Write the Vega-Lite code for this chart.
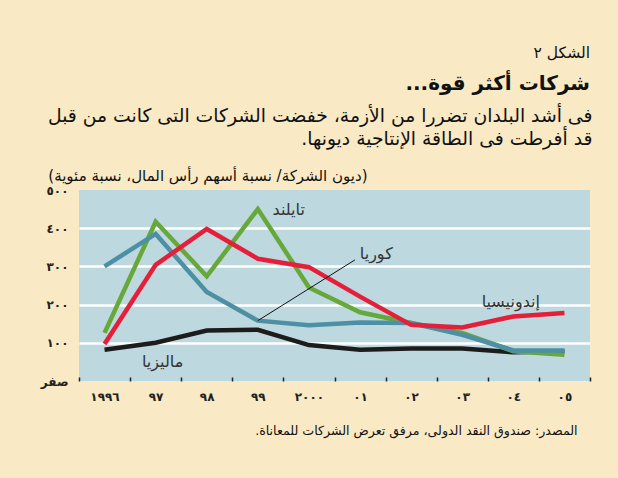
{
  "$schema": "https://vega.github.io/schema/vega-lite/v6.json",
  "width": 511,
  "height": 191,
  "autosize": {"type": "none"},
  "padding": {"left": 79, "top": 190, "right": 28, "bottom": 97},
  "background": "#f9e9c4",
  "config": {"view": {"fill": "#bdd8de", "stroke": null}, "font": "DejaVu Sans"},
  "title": {
    "text": "الشكل ٢",
    "subtitle": "شركات أكثر قوة...‏",
    "anchor": "end",
    "frame": "group",
    "fontSize": 15.5,
    "fontWeight": "normal",
    "color": "#111111",
    "subtitleFontSize": 20,
    "subtitleFontWeight": "bold",
    "subtitleColor": "#111111",
    "subtitlePadding": 13,
    "offset": 12
  },
  "datasets": {
    "series": [
      {"country": "ماليزيا", "year": 1996, "value": 82},
      {"country": "ماليزيا", "year": 1997, "value": 100},
      {"country": "ماليزيا", "year": 1998, "value": 132},
      {"country": "ماليزيا", "year": 1999, "value": 134},
      {"country": "ماليزيا", "year": 2000, "value": 94},
      {"country": "ماليزيا", "year": 2001, "value": 82},
      {"country": "ماليزيا", "year": 2002, "value": 85},
      {"country": "ماليزيا", "year": 2003, "value": 85},
      {"country": "ماليزيا", "year": 2004, "value": 75},
      {"country": "ماليزيا", "year": 2005, "value": 78},
      {"country": "تايلند", "year": 1996, "value": 126},
      {"country": "تايلند", "year": 1997, "value": 417},
      {"country": "تايلند", "year": 1998, "value": 274},
      {"country": "تايلند", "year": 1999, "value": 450},
      {"country": "تايلند", "year": 2000, "value": 245},
      {"country": "تايلند", "year": 2001, "value": 180},
      {"country": "تايلند", "year": 2002, "value": 152},
      {"country": "تايلند", "year": 2003, "value": 126},
      {"country": "تايلند", "year": 2004, "value": 78},
      {"country": "تايلند", "year": 2005, "value": 69},
      {"country": "كوريا", "year": 1996, "value": 300},
      {"country": "كوريا", "year": 1997, "value": 385},
      {"country": "كوريا", "year": 1998, "value": 233},
      {"country": "كوريا", "year": 1999, "value": 158},
      {"country": "كوريا", "year": 2000, "value": 146},
      {"country": "كوريا", "year": 2001, "value": 153},
      {"country": "كوريا", "year": 2002, "value": 152},
      {"country": "كوريا", "year": 2003, "value": 121},
      {"country": "كوريا", "year": 2004, "value": 80},
      {"country": "كوريا", "year": 2005, "value": 80},
      {"country": "إندونيسيا", "year": 1996, "value": 97},
      {"country": "إندونيسيا", "year": 1997, "value": 304},
      {"country": "إندونيسيا", "year": 1998, "value": 398},
      {"country": "إندونيسيا", "year": 1999, "value": 320},
      {"country": "إندونيسيا", "year": 2000, "value": 298},
      {"country": "إندونيسيا", "year": 2001, "value": 221},
      {"country": "إندونيسيا", "year": 2002, "value": 147},
      {"country": "إندونيسيا", "year": 2003, "value": 140},
      {"country": "إندونيسيا", "year": 2004, "value": 169},
      {"country": "إندونيسيا", "year": 2005, "value": 178}
    ],
    "labels": [
      {"label": "تايلند", "year": 1999.92, "value": 448},
      {"label": "كوريا", "year": 2001.64, "value": 333},
      {"label": "إندونيسيا", "year": 2004.52, "value": 208},
      {"label": "ماليزيا", "year": 1997.54, "value": 51}
    ],
    "pointer": [
      {"year": 1999, "value": 158, "year2": 2000.9, "value2": 317}
    ]
  },
  "encoding": {
    "y": {
      "field": "value",
      "type": "quantitative",
      "scale": {"domain": [0, 500], "nice": false},
      "axis": {
        "values": [0, 100, 200, 300, 400, 500],
        "labelExpr": "['صفر','١٠٠','٢٠٠','٣٠٠','٤٠٠','٥٠٠'][round(datum.value/100)]",
        "labelFontSize": 12,
        "labelFontWeight": "bold",
        "labelColor": "#222222",
        "labelPadding": 11,
        "labelOverlap": false,
        "labelFlush": false,
        "labelBound": false,
        "ticks": false,
        "domain": false,
        "grid": true,
        "gridColor": {"condition": {"test": "datum.value == 0 || datum.value == 500", "value": "transparent"}, "value": "#ffffff"},
        "gridWidth": 2.5,
        "title": "(ديون الشركة/ نسبة أسهم رأس المال، نسبة مئوية)",
        "titleAngle": 0,
        "titleAlign": "right",
        "titleAnchor": null,
        "titleX": 288,
        "titleY": -15,
        "titleBaseline": "middle",
        "titleFontSize": 15,
        "titleFontWeight": "normal",
        "titleColor": "#111111"
      }
    }
  },
  "layer": [
    {
      "data": {"name": "series"},
      "mark": {"type": "line", "strokeWidth": 4.5, "strokeJoin": "miter"},
      "encoding": {
        "x": {
          "field": "year",
          "type": "quantitative",
          "scale": {"domain": [1995.5, 2005.5], "nice": false, "zero": false},
          "axis": {
            "values": [1995.5, 1996.5, 1997.5, 1998.5, 1999.5, 2000.5, 2001.5, 2002.5, 2003.5, 2004.5, 2005.5],
            "labelExpr": "['١٩٩٦','٩٧','٩٨','٩٩','٢٠٠٠','٠١','٠٢','٠٣','٠٤','٠٥',''][round(datum.value-1995.5)]",
            "labelOffset": 25.5,
            "labelFontSize": 12,
            "labelFontWeight": "bold",
            "labelColor": "#222222",
            "labelPadding": 14,
            "labelFlush": false,
            "labelOverlap": false,
            "labelBound": false,
            "ticks": true,
            "tickSize": -4,
            "tickColor": "#222222",
            "tickWidth": 1.5,
            "domain": false,
            "grid": false,
            "title": "المصدر: صندوق النقد الدولى، مرفق تعرض الشركات للمعاناة.‏",
            "titleX": 498,
            "titleY": 49,
            "titleAlign": "right",
            "titleAnchor": null,
            "titleBaseline": "middle",
            "titleFontSize": 12.6,
            "titleFontWeight": "normal",
            "titleColor": "#111111"
          }
        },
        "color": {
          "field": "country",
          "type": "nominal",
          "scale": {
            "domain": ["ماليزيا", "تايلند", "كوريا", "إندونيسيا"],
            "range": ["#1c1c1c", "#67a83a", "#4d90a4", "#e51e3a"]
          },
          "legend": null
        }
      }
    },
    {
      "data": {"name": "pointer"},
      "mark": {"type": "rule", "color": "#111111", "strokeWidth": 1},
      "encoding": {
        "x": {"field": "year", "type": "quantitative", "scale": {"domain": [1995.5, 2005.5], "nice": false, "zero": false}, "axis": null},
        "x2": {"field": "year2"},
        "y2": {"field": "value2"}
      }
    },
    {
      "data": {"name": "labels"},
      "mark": {"type": "text", "align": "right", "baseline": "middle", "fontSize": 16, "color": "#333333"},
      "encoding": {
        "x": {
          "field": "year",
          "type": "quantitative",
          "scale": {"domain": [1995.5, 2005.5], "nice": false, "zero": false},
          "axis": {
            "orient": "top",
            "labels": false,
            "ticks": false,
            "domain": false,
            "grid": false,
            "title": ["فى أشد البلدان تضررا من الأزمة، خفضت الشركات التى كانت من قبل", "قد أفرطت فى الطاقة الإنتاجية ديونها.‏"],
            "titleX": 513,
            "titleY": -75,
            "titleAlign": "right",
            "titleAnchor": null,
            "titleBaseline": "middle",
            "titleFontSize": 18.8,
            "titleFontWeight": "normal",
            "titleLineHeight": 23,
            "titleColor": "#111111"
          }
        },
        "text": {"field": "label", "type": "nominal"}
      }
    }
  ],
  "resolve": {"axis": {"x": "independent"}}
}
